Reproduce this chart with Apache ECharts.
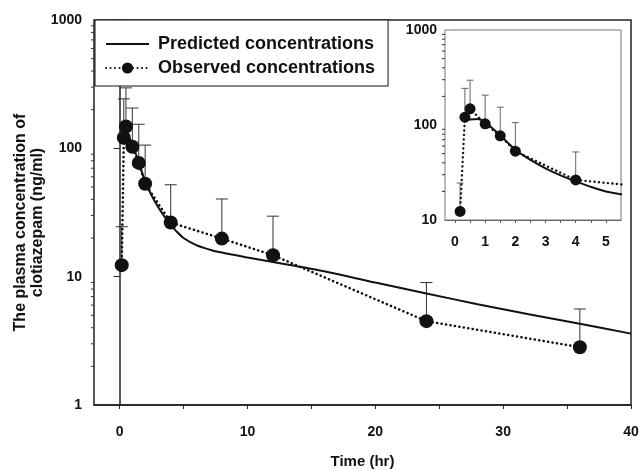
<!DOCTYPE html>
<html>
<head>
<meta charset="utf-8">
<script src="https://cdn.jsdelivr.net/npm/echarts@6/dist/echarts.min.js"></script>
<style>html,body{margin:0;padding:0;background:#fff}#c{width:640px;height:470px}</style>
</head>
<body>
<div id="c"></div>
<script>
// ---- data ----
var obsTime  = [0.17, 0.33, 0.5, 1, 1.5, 2, 4, 8, 12, 24, 36];
var obsConc  = [12.3, 121, 148, 103, 77, 53, 26.4, 19.8, 14.7, 4.5, 2.82];
var obsUpper = [24.5, 243, 296, 206, 154, 106, 52, 40.3, 29.6, 9.0, 5.6];
var predTime = [0.25, 0.5, 0.75, 1, 1.25, 1.5, 2, 2.5, 3, 3.5, 4, 4.5, 5, 6, 7, 8, 10, 12, 16, 20, 24, 28, 32, 36, 40];
var predConc = [110, 114, 116, 108, 92, 78, 55, 43, 35, 29.5, 25.5, 22.3, 20, 17.6, 16.3, 15.4, 14.1, 13, 11, 9, 7.4, 6.1, 5.1, 4.3, 3.6];
var mainXTicks = [0, 10, 20, 30, 40];
var mainXMinor = [0, 5, 10, 15, 20, 25, 30, 35, 40];
var insetXTicks = [0, 1, 2, 3, 4, 5];
var insetXMinor = [0, 0.5, 1, 1.5, 2, 2.5, 3, 3.5, 4, 4.5, 5];
var mainYMinor = [2,3,4,5,6,7,8,9,20,30,40,50,60,70,80,90,200,300,400,500,600,700,800,900];
var insetYMinor = [20,30,40,50,60,70,80,90,200,300,400,500,600,700,800,900];
var seriesNames = ['Predicted concentrations', 'Observed concentrations'];

var FONT = '"Liberation Sans", Arial, sans-serif';
var MAIN_XMIN = -2, MAIN_XMAX = 40, INSET_XMIN = -0.33, INSET_XMAX = 5.5;

function pairs(xs, ys) { return xs.map(function (x, i) { return [x, ys[i]]; }); }
var obsData = pairs(obsTime, obsConc);
var predData = pairs(predTime, predConc);
var errData = obsTime.map(function (t, i) { return [t, obsConc[i], obsUpper[i]]; });

function errRender(capHalf, color) {
  return function (params, api) {
    var lo = api.coord([api.value(0), api.value(1)]);
    var hi = api.coord([api.value(0), api.value(2)]);
    return {
      type: 'group',
      children: [
        { type: 'line', shape: { x1: lo[0], y1: lo[1], x2: hi[0], y2: hi[1] }, style: { stroke: color, lineWidth: 1 } },
        { type: 'line', shape: { x1: hi[0] - capHalf, y1: hi[1], x2: hi[0] + capHalf, y2: hi[1] }, style: { stroke: color, lineWidth: 1 } }
      ]
    };
  };
}
function minorYRender(xmin, len) {
  return function (params, api) {
    var p = api.coord([xmin, api.value(0)]);
    return { type: 'line', shape: { x1: p[0] - len, y1: p[1], x2: p[0], y2: p[1] }, style: { stroke: '#333', lineWidth: 1 } };
  };
}
function plainNum(v) { return String(v); }

var chart = echarts.init(document.getElementById('c'), null, { renderer: 'canvas' });
var labelStyle = { color: '#111', fontFamily: FONT, fontWeight: 'bold', fontSize: 14 };

var option = {
  animation: false,
  backgroundColor: '#fff',
  legend: {
    left: 95, top: 20,
    orient: 'vertical',
    data: [
      { name: seriesNames[0], icon: 'path://M0,0 L43,0 L43,2 L0,2 Z' },
      { name: seriesNames[1] }
    ],
    itemWidth: 43, itemHeight: 14, itemGap: 6,
    padding: [15, 13, 9, 10],
    borderColor: '#111', borderWidth: 1,
    backgroundColor: '#fff',
    textStyle: { fontFamily: FONT, fontWeight: 'bold', fontSize: 18, color: '#111', padding: [0, 0, 0, 4] }
  },
  grid: [
    { left: 94, right: 9, top: 20, bottom: 65, show: true, borderColor: '#222', borderWidth: 1.5, backgroundColor: 'transparent', outerBoundsMode: 'none', containLabel: false },
    { left: 445, top: 30, width: 176, height: 190, show: true, borderColor: '#777', borderWidth: 1, backgroundColor: '#fff', z: 5, outerBoundsMode: 'none', containLabel: false }
  ],
  xAxis: [
    {
      gridIndex: 0, type: 'value', min: MAIN_XMIN, max: MAIN_XMAX,
      name: 'Time (hr)', nameLocation: 'middle', nameGap: 49, nameMoveOverlap: false,
      nameTextStyle: { fontFamily: FONT, fontWeight: 'bold', fontSize: 15, color: '#111' },
      axisLine: { lineStyle: { color: '#222', width: 1.5 } },
      axisTick: { customValues: mainXMinor, length: 4, lineStyle: { color: '#222' } },
      axisLabel: Object.assign({ customValues: mainXTicks, margin: 20, formatter: plainNum }, labelStyle),
      splitLine: { show: false }
    },
    {
      gridIndex: 1, type: 'value', min: INSET_XMIN, max: INSET_XMAX,
      axisLine: { lineStyle: { color: '#555', width: 1 } },
      axisTick: { customValues: insetXMinor, length: 3, lineStyle: { color: '#555' } },
      axisLabel: Object.assign({ customValues: insetXTicks, margin: 15, formatter: plainNum }, labelStyle),
      splitLine: { show: false }
    }
  ],
  yAxis: [
    {
      gridIndex: 0, type: 'log', logBase: 10, min: 1, max: 1000,
      name: 'The plasma concentration of\nclotiazepam (ng/ml)', nameLocation: 'middle', nameGap: 48, nameMoveOverlap: false,
      nameTextStyle: { fontFamily: FONT, fontWeight: 'bold', fontSize: 16, color: '#111', lineHeight: 17, padding: [0, 20, 0, 0] },
      axisLine: { lineStyle: { color: '#222', width: 1.5 } },
      axisTick: { length: 6, lineStyle: { color: '#222' } },
      axisLabel: Object.assign({ margin: 12, formatter: plainNum }, labelStyle),
      splitLine: { show: false }
    },
    {
      gridIndex: 1, type: 'log', logBase: 10, min: 10, max: 1000,
      axisLine: { lineStyle: { color: '#555', width: 1 } },
      axisTick: { length: 5, lineStyle: { color: '#555' } },
      axisLabel: Object.assign({ margin: 8, formatter: plainNum }, labelStyle),
      splitLine: { show: false }
    }
  ],
  series: [
    { type: 'custom', name: 'minorMain', xAxisIndex: 0, yAxisIndex: 0, renderItem: minorYRender(MAIN_XMIN, 3),
      data: mainYMinor.map(function (v) { return [v]; }), encode: { y: 0 }, silent: true, z: 3 },
    { type: 'custom', name: 'errMain', xAxisIndex: 0, yAxisIndex: 0, renderItem: errRender(6, '#333'),
      data: errData, encode: { x: 0, y: [1, 2] }, silent: true, z: 2 },
    { type: 'line', name: seriesNames[0], xAxisIndex: 0, yAxisIndex: 0, data: predData,
      showSymbol: false, symbol: 'none', smooth: 0.3,
      lineStyle: { color: '#111', width: 2 }, itemStyle: { color: '#111' }, z: 3 },
    { type: 'line', name: seriesNames[1], xAxisIndex: 0, yAxisIndex: 0, data: obsData,
      symbol: 'circle', symbolSize: 14,
      lineStyle: { color: '#111', width: 2.6, type: [0.1, 4.4], cap: 'round' },
      itemStyle: { color: '#111' }, z: 4 },

    { type: 'custom', name: 'minorInset', xAxisIndex: 1, yAxisIndex: 1, renderItem: minorYRender(INSET_XMIN, 3),
      data: insetYMinor.map(function (v) { return [v]; }), encode: { y: 0 }, silent: true, z: 7 },
    { type: 'custom', name: 'errInset', xAxisIndex: 1, yAxisIndex: 1, renderItem: errRender(3.5, '#666'),
      data: errData.filter(function (d) { return d[0] <= INSET_XMAX; }), encode: { x: 0, y: [1, 2] }, silent: true, z: 6 },
    { type: 'line', name: seriesNames[0], xAxisIndex: 1, yAxisIndex: 1, data: predData, clip: true,
      showSymbol: false, symbol: 'none', smooth: 0.3,
      lineStyle: { color: '#111', width: 2 }, itemStyle: { color: '#111' }, z: 7 },
    { type: 'line', name: seriesNames[1], xAxisIndex: 1, yAxisIndex: 1, data: obsData, clip: true,
      symbol: 'circle', symbolSize: 11,
      lineStyle: { color: '#111', width: 2.4, type: [0.1, 4.4], cap: 'round' },
      itemStyle: { color: '#111' }, z: 8 }
  ]
};
chart.setOption(option);
</script>
</body>
</html>
